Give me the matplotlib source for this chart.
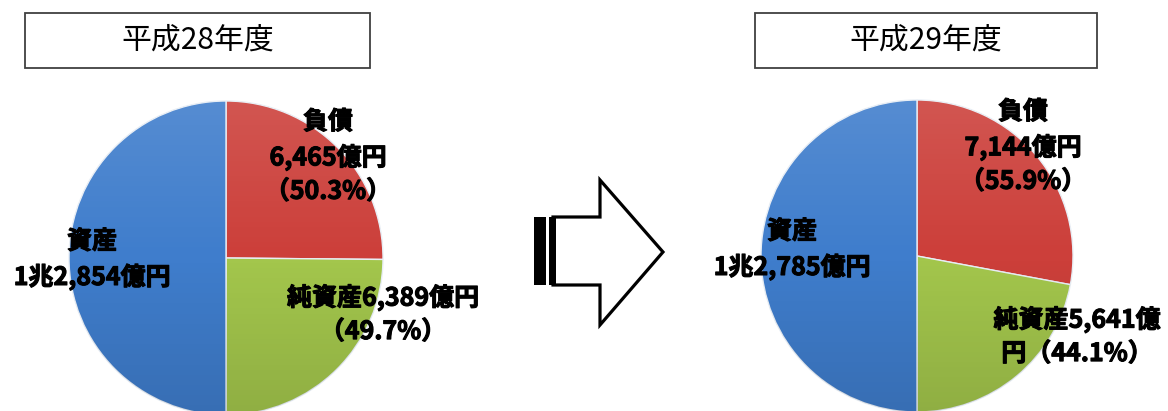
import numpy as np
import matplotlib.pyplot as plt
import matplotlib.patheffects as pe
from matplotlib.patches import Rectangle, Polygon, Circle

plt.rcParams['font.family'] = ['Noto Sans CJK JP', 'DejaVu Sans']

# balance sheet values (億円)
years = ["平成28年度", "平成29年度"]
assets = [12854, 12785]
liabilities = [6465, 7144]
net_assets = [6389, 5641]
asset_labels = ["資産\n1兆2,854億円", "資産\n1兆2,785億円"]
liab_labels = ["負債\n6,465億円\n（50.3%）", "負債\n7,144億円\n（55.9%）"]
net_labels = ["純資産6,389億円\n（49.7%）", "純資産5,641億\n円（44.1%）"]

colors = ["#cc3f3a", "#a3c64c", "#3f7dcc"]

W, H = 1168, 411
fig = plt.figure(figsize=(W / 100, H / 100), dpi=100)
ax = fig.add_axes([0, 0, 1, 1])

# layout in pixel coordinates (y measured from top)
pie_centers = [(226, 258), (917, 256)]
pie_radius = [157, 156]
boxes = [(25, 13, 345, 55), (755, 13, 342, 55)]

# light-to-dark shading overlay for the pies
t = np.linspace(0, 1, 100)
shade = np.zeros((100, 1, 4))
shade[:, 0, 0:3] = np.where(t < 0.5, 1.0, 0.0)[:, None]
shade[:, 0, 3] = np.abs(t - 0.5) * 0.24

for i in range(2):
    cx, cy = pie_centers[i]
    r = pie_radius[i]
    ax.pie([liabilities[i], net_assets[i], assets[i]], colors=colors,
           startangle=90, counterclock=False, center=(cx, H - cy),
           radius=r, frame=True,
           wedgeprops=dict(edgecolor="#e8eef5", linewidth=1.0))
    im = ax.imshow(shade, extent=(cx - r, cx + r, H - cy - r, H - cy + r),
                   aspect="auto", zorder=3, interpolation="bilinear")
    im.set_clip_path(Circle((cx, H - cy), r, transform=ax.transData))

    bx, by, bw, bh = boxes[i]
    ax.add_patch(Rectangle((bx, H - by - bh), bw, bh, facecolor="white",
                           edgecolor="#404040", linewidth=1.3))
    ax.text(bx + bw / 2, H - by - bh / 2, years[i], fontsize=21.5,
            ha="center", va="center")

# heavy bold labels
lab = dict(fontsize=18, fontweight="bold", ha="center", va="center",
           linespacing=1.48, zorder=5,
           path_effects=[pe.withStroke(linewidth=0.8, foreground="black")])
ax.text(92, H - 260, asset_labels[0], **lab)
ax.text(328, H - 157, liab_labels[0], **lab)
ax.text(383, H - 314, net_labels[0], **lab)

ax.text(792, H - 250, asset_labels[1], **lab)
ax.text(1023, H - 147, liab_labels[1], **lab)
ax.text(1077, H - 336, net_labels[1], **lab)

# block arrow between the two years
ax.add_patch(Rectangle((534, H - 285), 12, 68, facecolor="black", edgecolor="none"))
arrow_pts = [(553, 217), (600, 217), (600, 180), (663, 252),
             (600, 325), (600, 285), (553, 285)]
ax.add_patch(Polygon([(x, H - y) for x, y in arrow_pts], closed=True,
                     facecolor="white", edgecolor="black", linewidth=2.3,
                     joinstyle="miter"))
ax.add_patch(Rectangle((549, H - 285), 7, 68, facecolor="black", edgecolor="none"))

ax.set_xlim(0, W)
ax.set_ylim(0, H)
ax.set_aspect("equal")
ax.axis("off")

fig.savefig("out.png", dpi=100)
